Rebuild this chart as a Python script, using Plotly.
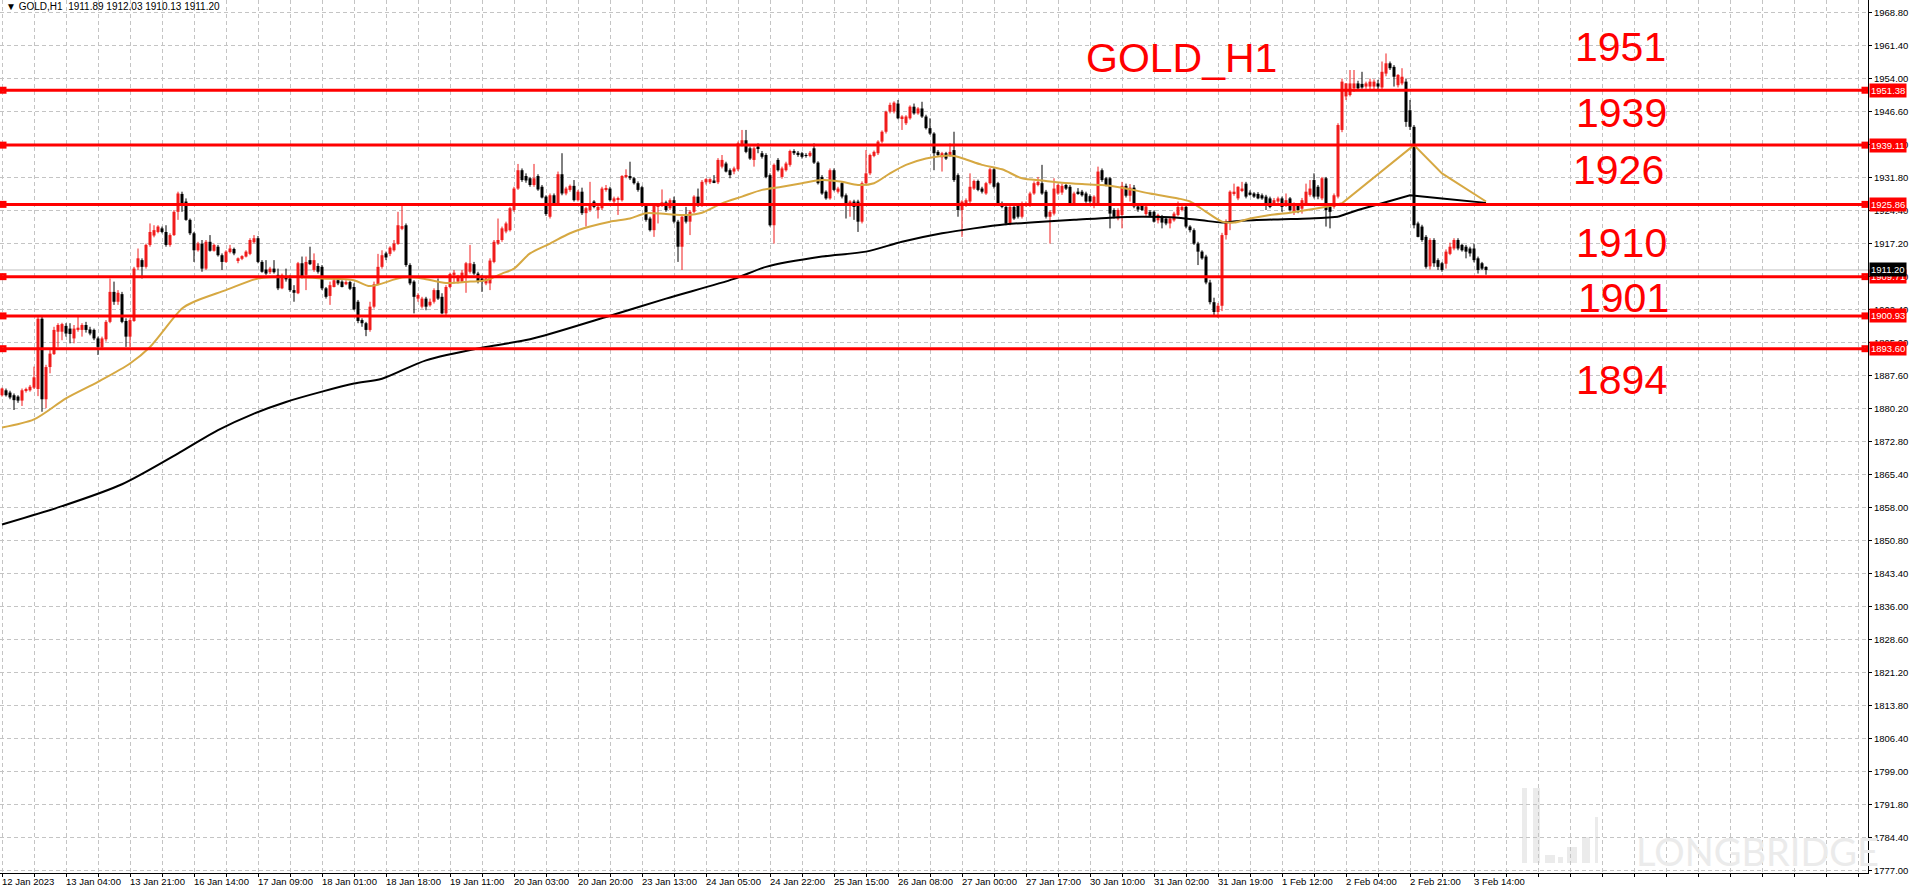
import plotly.graph_objects as go

# x-axis labels, one every 16 hourly bars
time_labels = [
    "12 Jan 2023", "13 Jan 04:00", "13 Jan 21:00", "16 Jan 14:00", "17 Jan 09:00", "18 Jan 01:00",
    "18 Jan 18:00", "19 Jan 11:00", "20 Jan 03:00", "20 Jan 20:00", "23 Jan 13:00", "24 Jan 05:00",
    "24 Jan 22:00", "25 Jan 15:00", "26 Jan 08:00", "27 Jan 00:00", "27 Jan 17:00", "30 Jan 10:00",
    "31 Jan 02:00", "31 Jan 19:00", "1 Feb 12:00", "2 Feb 04:00", "2 Feb 21:00", "3 Feb 14:00",
]

open_ = [
    1883.2, 1884.3, 1883.8, 1883.2, 1882.9, 1882.0, 1884.2, 1884.3, 1884.9, 1884.6, 1900.3, 1882.3,
    1889.5, 1892.4, 1897.4, 1897.4, 1898.7, 1898.1, 1895.9, 1897.8, 1897.8, 1898.9, 1897.9, 1897.8,
    1895.9, 1893.9, 1895.7, 1899.6, 1906.3, 1904.1, 1905.8, 1899.8, 1896.3, 1899.8, 1911.8, 1913.4,
    1911.9, 1916.8, 1918.9, 1919.7, 1920.5, 1919.7, 1916.8, 1919.0, 1924.2, 1928.2, 1926.5, 1922.4,
    1919.4, 1915.6, 1917.1, 1911.5, 1917.5, 1915.5, 1916.4, 1914.5, 1913.0, 1915.2, 1915.9, 1913.2,
    1913.7, 1914.2, 1914.8, 1917.4, 1918.3, 1913.0, 1911.3, 1910.7, 1911.5, 1910.1, 1907.1, 1909.7,
    1909.3, 1906.7, 1906.0, 1912.7, 1910.1, 1913.4, 1911.2, 1912.1, 1911.9, 1907.1, 1905.4, 1907.4,
    1908.9, 1908.6, 1908.0, 1908.5, 1907.4, 1904.1, 1900.0, 1899.3, 1897.8, 1903.0, 1908.0, 1911.9,
    1914.9, 1914.8, 1915.6, 1917.0, 1920.4, 1921.2, 1912.3, 1908.6, 1904.8, 1903.0, 1904.8, 1903.3,
    1904.1, 1906.7, 1905.2, 1901.5, 1907.4, 1910.1, 1908.6, 1908.6, 1909.7, 1910.8, 1912.5, 1910.4,
    1909.3, 1908.2, 1908.2, 1913.0, 1917.1, 1917.9, 1919.8, 1920.1, 1924.6, 1929.4, 1933.5, 1932.2,
    1931.7, 1930.2, 1932.2, 1929.8, 1927.6, 1923.1, 1927.9, 1926.1, 1932.6, 1928.3, 1929.1, 1930.0,
    1926.8, 1928.7, 1923.9, 1924.6, 1926.5, 1924.6, 1925.0, 1929.1, 1929.4, 1926.5, 1926.9, 1926.8,
    1932.0, 1932.2, 1931.7, 1930.6, 1929.7, 1925.7, 1922.7, 1920.1, 1925.3, 1925.7, 1926.3, 1925.0,
    1926.8, 1922.0, 1916.4, 1923.5, 1922.0, 1924.2, 1927.6, 1925.7, 1930.8, 1930.8, 1931.2, 1930.8,
    1934.3, 1935.0, 1933.5, 1933.2, 1933.7, 1939.1, 1940.2, 1938.4, 1935.8, 1938.8, 1937.3, 1936.9,
    1932.4, 1921.2, 1935.8, 1932.0, 1933.5, 1934.7, 1937.8, 1937.4, 1937.3, 1936.9, 1936.7, 1938.4,
    1935.2, 1932.0, 1928.7, 1927.2, 1933.5, 1928.7, 1930.6, 1927.9, 1925.7, 1926.5, 1926.5, 1922.0,
    1930.6, 1932.8, 1936.7, 1937.3, 1939.9, 1942.1, 1946.6, 1946.6, 1948.4, 1945.1, 1944.0, 1945.1,
    1947.7, 1946.2, 1947.3, 1945.5, 1942.9, 1941.7, 1937.6, 1936.4, 1937.3, 1936.9, 1938.0, 1932.4,
    1924.6, 1925.7, 1926.5, 1929.4, 1931.1, 1929.4, 1928.3, 1930.6, 1933.7, 1930.6, 1926.1, 1925.3,
    1921.6, 1925.3, 1925.7, 1923.1, 1925.7, 1925.7, 1928.3, 1930.2, 1930.6, 1928.7, 1923.1, 1923.8,
    1928.3, 1928.5, 1930.2, 1929.8, 1926.1, 1928.7, 1928.7, 1928.3, 1927.7, 1926.1, 1926.1, 1933.5,
    1931.7, 1931.7, 1924.6, 1922.7, 1923.5, 1930.0, 1927.8, 1929.6, 1925.4, 1925.5, 1923.7, 1924.2,
    1924.2, 1922.3, 1923.1, 1922.7, 1921.6, 1922.3, 1923.5, 1924.6, 1925.3, 1920.9, 1920.1, 1917.1,
    1915.3, 1914.2, 1908.4, 1904.0, 1901.8, 1903.2, 1919.0, 1922.0, 1928.3, 1927.2, 1929.0, 1930.5,
    1928.5, 1928.3, 1928.2, 1927.9, 1927.6, 1927.2, 1926.1, 1926.5, 1927.2, 1925.7, 1927.2, 1924.2,
    1925.7, 1924.9, 1926.1, 1928.0, 1931.3, 1929.8, 1927.2, 1931.7, 1925.3, 1925.3, 1927.6, 1942.5,
    1950.0, 1950.3, 1951.8, 1952.9, 1952.8, 1952.2, 1952.2, 1952.2, 1952.9, 1952.0, 1955.1, 1957.4,
    1956.6, 1952.5, 1952.9, 1953.3, 1946.9, 1943.2, 1921.6, 1920.9, 1918.6, 1912.0, 1917.9, 1913.4,
    1912.7, 1912.6, 1914.8, 1916.0, 1917.9, 1916.8, 1916.4, 1916.0, 1916.0, 1913.8, 1912.7, 1911.89,
]

high = [
    1884.9, 1884.7, 1884.2, 1883.6, 1883.2, 1884.7, 1884.9, 1885.5, 1889.6, 1901.0, 1901.0, 1890.0,
    1893.3, 1898.5, 1899.3, 1899.4, 1899.3, 1899.3, 1898.9, 1900.7, 1899.3, 1899.6, 1898.5, 1898.1,
    1896.3, 1896.3, 1900.0, 1909.3, 1908.6, 1906.7, 1906.3, 1900.4, 1900.4, 1911.9, 1916.0, 1913.8,
    1917.1, 1921.6, 1921.2, 1921.2, 1920.9, 1921.2, 1919.4, 1924.6, 1928.7, 1928.7, 1927.2, 1922.7,
    1919.7, 1917.5, 1917.9, 1917.9, 1919.0, 1917.1, 1916.8, 1914.9, 1915.6, 1916.8, 1916.2, 1914.0,
    1914.5, 1915.6, 1918.3, 1919.0, 1918.8, 1913.4, 1913.4, 1911.9, 1913.4, 1911.5, 1910.4, 1911.5,
    1910.1, 1907.8, 1913.0, 1914.2, 1914.2, 1916.4, 1914.9, 1912.7, 1912.3, 1907.4, 1908.6, 1909.3,
    1909.3, 1908.9, 1908.9, 1908.8, 1908.2, 1904.5, 1900.4, 1899.6, 1904.1, 1908.6, 1914.8, 1915.6,
    1915.3, 1916.5, 1917.9, 1924.2, 1925.7, 1921.6, 1912.7, 1908.9, 1906.0, 1905.2, 1905.2, 1904.8,
    1907.1, 1909.3, 1906.0, 1907.8, 1910.6, 1911.2, 1910.1, 1911.2, 1913.0, 1916.8, 1913.0, 1910.8,
    1910.1, 1909.7, 1913.8, 1917.9, 1922.7, 1920.9, 1922.0, 1925.3, 1929.8, 1934.9, 1933.9, 1932.8,
    1932.0, 1934.9, 1932.6, 1930.2, 1927.9, 1928.3, 1928.3, 1933.2, 1937.3, 1929.8, 1930.3, 1931.3,
    1929.1, 1929.6, 1925.3, 1930.9, 1926.8, 1925.7, 1929.8, 1930.2, 1929.8, 1927.6, 1927.6, 1932.4,
    1933.7, 1935.4, 1932.0, 1931.0, 1930.0, 1926.1, 1923.1, 1926.1, 1926.1, 1929.2, 1926.7, 1927.2,
    1927.6, 1922.4, 1923.5, 1925.3, 1924.6, 1927.9, 1929.4, 1931.3, 1931.7, 1931.7, 1932.4, 1936.2,
    1936.9, 1935.4, 1933.9, 1934.3, 1939.9, 1942.5, 1942.5, 1938.8, 1938.8, 1939.5, 1937.8, 1937.3,
    1932.8, 1935.0, 1936.2, 1934.3, 1935.4, 1938.1, 1938.2, 1937.8, 1937.6, 1937.3, 1937.8, 1939.5,
    1935.5, 1932.4, 1929.0, 1933.9, 1933.9, 1929.8, 1931.0, 1928.3, 1926.8, 1926.9, 1926.9, 1931.0,
    1938.0, 1937.2, 1937.9, 1940.2, 1942.4, 1946.8, 1948.6, 1948.9, 1949.2, 1945.8, 1945.8, 1948.0,
    1948.4, 1947.6, 1948.8, 1945.9, 1945.1, 1942.0, 1938.0, 1937.6, 1937.6, 1939.5, 1942.1, 1932.8,
    1926.8, 1927.2, 1932.8, 1931.4, 1931.4, 1929.8, 1930.9, 1934.0, 1934.0, 1930.9, 1926.5, 1925.7,
    1925.7, 1925.7, 1926.1, 1926.5, 1926.5, 1928.7, 1931.0, 1932.0, 1934.7, 1929.1, 1924.6, 1931.7,
    1930.5, 1930.5, 1930.6, 1930.2, 1928.7, 1929.5, 1929.1, 1928.7, 1928.1, 1927.9, 1934.3, 1933.9,
    1932.0, 1932.0, 1925.0, 1925.0, 1930.9, 1930.5, 1930.4, 1930.2, 1926.0, 1926.0, 1925.7, 1924.6,
    1924.5, 1923.8, 1923.5, 1923.1, 1922.9, 1924.2, 1926.5, 1925.7, 1925.7, 1921.2, 1920.5, 1917.5,
    1915.6, 1914.6, 1909.0, 1905.0, 1903.8, 1919.5, 1922.5, 1929.0, 1930.5, 1929.9, 1930.9, 1930.9,
    1929.0, 1928.6, 1928.6, 1928.3, 1928.0, 1927.6, 1927.3, 1927.6, 1927.6, 1928.3, 1927.5, 1926.3,
    1926.1, 1927.3, 1930.5, 1931.3, 1932.8, 1930.2, 1932.0, 1932.0, 1925.7, 1928.3, 1944.0, 1954.0,
    1953.0, 1955.9, 1955.9, 1953.5, 1955.5, 1953.3, 1954.0, 1953.8, 1953.7, 1957.8, 1959.6, 1957.8,
    1957.0, 1955.0, 1956.3, 1954.0, 1949.2, 1943.6, 1922.0, 1921.3, 1919.0, 1918.3, 1918.3, 1913.8,
    1913.0, 1915.8, 1917.3, 1918.3, 1918.3, 1917.1, 1916.8, 1916.4, 1917.1, 1914.2, 1913.0, 1912.03,
]

low = [
    1882.9, 1882.9, 1882.3, 1879.9, 1881.5, 1880.8, 1883.8, 1884.0, 1884.6, 1883.0, 1879.5, 1880.3,
    1888.1, 1892.2, 1894.0, 1895.5, 1896.3, 1894.8, 1894.8, 1897.4, 1896.3, 1897.2, 1896.6, 1895.5,
    1892.2, 1893.3, 1895.2, 1899.3, 1903.4, 1903.4, 1899.3, 1894.0, 1894.0, 1899.6, 1911.2, 1909.3,
    1911.5, 1916.4, 1918.5, 1919.4, 1919.4, 1916.4, 1916.4, 1918.8, 1922.4, 1924.2, 1922.2, 1919.0,
    1913.0, 1915.3, 1910.8, 1911.2, 1915.3, 1915.3, 1914.2, 1911.2, 1912.8, 1914.9, 1914.5, 1912.7,
    1913.4, 1914.0, 1914.5, 1917.1, 1912.7, 1910.6, 1910.1, 1910.3, 1910.4, 1906.7, 1906.9, 1908.6,
    1906.3, 1904.1, 1905.8, 1909.3, 1906.7, 1912.3, 1910.8, 1910.4, 1906.7, 1904.8, 1903.4, 1907.3,
    1907.8, 1907.3, 1907.8, 1906.7, 1902.2, 1899.3, 1898.5, 1896.4, 1897.4, 1902.6, 1907.8, 1911.5,
    1913.4, 1914.3, 1915.3, 1916.8, 1920.1, 1911.9, 1907.8, 1901.5, 1904.1, 1902.6, 1902.2, 1903.0,
    1903.7, 1904.5, 1901.3, 1901.1, 1907.1, 1908.2, 1908.2, 1908.3, 1906.1, 1910.4, 1910.1, 1908.2,
    1906.3, 1907.8, 1906.7, 1912.7, 1916.8, 1917.5, 1919.4, 1919.8, 1924.2, 1929.1, 1930.9, 1930.7,
    1929.8, 1929.8, 1928.9, 1927.2, 1923.3, 1922.7, 1925.7, 1925.7, 1927.9, 1927.9, 1928.7, 1926.5,
    1926.5, 1923.5, 1920.9, 1924.2, 1925.0, 1922.7, 1924.6, 1928.7, 1926.5, 1926.1, 1923.5, 1926.5,
    1931.7, 1931.3, 1930.3, 1928.7, 1925.3, 1922.0, 1919.8, 1918.6, 1921.6, 1925.3, 1924.2, 1924.6,
    1921.6, 1913.0, 1911.2, 1921.6, 1919.0, 1923.9, 1925.3, 1925.3, 1930.3, 1930.4, 1930.6, 1930.4,
    1933.9, 1933.0, 1931.7, 1932.6, 1933.3, 1938.8, 1937.3, 1935.8, 1934.3, 1937.3, 1936.1, 1931.7,
    1920.9, 1917.1, 1933.2, 1931.6, 1933.2, 1934.3, 1936.9, 1936.5, 1936.1, 1936.3, 1936.4, 1934.9,
    1930.3, 1928.0, 1926.9, 1926.9, 1928.8, 1928.3, 1927.2, 1922.7, 1923.1, 1922.4, 1919.7, 1921.6,
    1930.3, 1932.4, 1936.4, 1936.9, 1939.5, 1941.7, 1946.2, 1946.2, 1944.9, 1942.5, 1943.6, 1944.8,
    1945.9, 1945.9, 1945.2, 1942.6, 1941.4, 1933.5, 1936.5, 1933.2, 1935.8, 1936.5, 1930.9, 1923.1,
    1918.6, 1925.3, 1926.1, 1929.1, 1928.8, 1928.3, 1928.0, 1930.3, 1929.4, 1925.7, 1925.0, 1921.2,
    1921.2, 1922.4, 1922.7, 1922.7, 1925.3, 1925.3, 1928.0, 1929.9, 1928.0, 1922.7, 1917.1, 1923.4,
    1928.0, 1928.0, 1929.1, 1925.7, 1925.7, 1928.0, 1927.6, 1926.2, 1926.1, 1925.0, 1925.7, 1930.9,
    1929.9, 1920.5, 1922.7, 1922.3, 1920.5, 1927.4, 1926.5, 1925.0, 1924.2, 1924.4, 1923.3, 1923.1,
    1921.8, 1921.6, 1920.5, 1921.2, 1920.5, 1922.0, 1923.2, 1924.3, 1920.5, 1919.6, 1916.8, 1912.3,
    1913.5, 1908.0, 1903.5, 1900.8, 1900.5, 1902.0, 1918.0, 1920.1, 1927.8, 1926.8, 1928.6, 1927.2,
    1927.8, 1927.3, 1927.0, 1926.9, 1924.6, 1925.0, 1925.6, 1926.2, 1924.2, 1925.3, 1924.3, 1923.5,
    1923.9, 1923.8, 1925.8, 1927.6, 1927.2, 1927.0, 1926.8, 1920.9, 1920.5, 1924.9, 1927.2, 1942.0,
    1949.2, 1950.0, 1951.0, 1951.4, 1951.7, 1951.7, 1951.4, 1951.6, 1951.6, 1951.5, 1954.5, 1955.9,
    1952.2, 1952.0, 1952.5, 1943.2, 1942.5, 1920.5, 1918.5, 1917.5, 1911.5, 1911.3, 1911.9, 1911.2,
    1910.8, 1911.5, 1914.5, 1915.6, 1915.6, 1915.3, 1913.8, 1914.2, 1912.9, 1910.4, 1911.2, 1910.13,
]

close = [
    1884.7, 1883.2, 1882.7, 1882.1, 1882.0, 1884.3, 1884.6, 1885.1, 1887.2, 1900.3, 1882.3, 1889.5,
    1892.5, 1897.8, 1898.9, 1899.1, 1897.0, 1896.9, 1898.1, 1898.3, 1898.9, 1897.8, 1897.0, 1895.9,
    1894.0, 1895.9, 1899.6, 1906.3, 1904.1, 1906.1, 1899.6, 1896.3, 1900.0, 1911.5, 1913.8, 1911.9,
    1916.8, 1919.7, 1920.1, 1920.9, 1919.7, 1916.8, 1919.0, 1924.2, 1928.3, 1926.1, 1922.4, 1919.4,
    1915.6, 1917.1, 1911.5, 1917.5, 1915.5, 1916.8, 1914.5, 1913.0, 1915.3, 1916.0, 1914.9, 1913.8,
    1914.3, 1915.3, 1917.9, 1918.3, 1913.0, 1910.8, 1910.4, 1911.5, 1910.7, 1907.1, 1910.1, 1909.1,
    1906.7, 1906.1, 1912.7, 1909.7, 1913.0, 1912.5, 1913.4, 1910.8, 1907.1, 1905.2, 1907.8, 1908.9,
    1908.2, 1907.4, 1908.5, 1907.0, 1902.4, 1899.8, 1899.3, 1897.8, 1903.0, 1908.0, 1911.9, 1914.5,
    1914.0, 1916.2, 1917.1, 1921.2, 1921.0, 1912.3, 1908.2, 1905.2, 1905.6, 1904.8, 1903.0, 1904.1,
    1906.7, 1904.8, 1901.5, 1907.4, 1910.3, 1910.6, 1909.7, 1910.6, 1912.7, 1912.7, 1910.4, 1908.6,
    1908.6, 1909.3, 1913.3, 1917.5, 1917.9, 1920.5, 1921.6, 1925.0, 1929.4, 1933.5, 1931.3, 1931.2,
    1930.2, 1931.7, 1929.2, 1927.4, 1923.7, 1927.9, 1926.1, 1932.6, 1928.3, 1929.4, 1930.0, 1926.8,
    1928.7, 1923.9, 1925.0, 1925.7, 1925.3, 1925.3, 1929.4, 1929.4, 1926.8, 1927.2, 1927.2, 1932.2,
    1932.4, 1931.7, 1930.6, 1929.1, 1925.7, 1922.4, 1920.1, 1925.7, 1925.7, 1926.3, 1924.6, 1926.8,
    1922.0, 1916.4, 1923.1, 1922.0, 1924.2, 1927.6, 1925.7, 1930.9, 1931.5, 1931.5, 1930.8, 1935.8,
    1935.8, 1933.2, 1932.4, 1933.9, 1939.5, 1940.2, 1937.6, 1936.1, 1938.4, 1938.4, 1936.5, 1932.0,
    1921.2, 1934.7, 1933.5, 1933.9, 1935.0, 1937.8, 1937.3, 1936.9, 1936.5, 1936.7, 1937.4, 1935.2,
    1930.6, 1928.3, 1927.2, 1933.5, 1929.1, 1929.4, 1927.6, 1925.7, 1926.5, 1925.3, 1922.0, 1930.6,
    1932.8, 1936.9, 1937.6, 1939.9, 1942.1, 1946.6, 1948.1, 1948.6, 1945.1, 1945.5, 1945.5, 1947.7,
    1946.2, 1947.3, 1945.5, 1942.9, 1941.7, 1937.3, 1936.9, 1937.3, 1936.1, 1937.6, 1931.3, 1924.6,
    1926.5, 1926.8, 1929.8, 1931.1, 1929.1, 1928.7, 1930.6, 1933.7, 1929.8, 1926.1, 1925.3, 1921.6,
    1925.3, 1922.7, 1923.1, 1926.1, 1926.1, 1928.3, 1930.6, 1930.9, 1928.3, 1923.1, 1924.2, 1929.4,
    1930.2, 1930.0, 1929.4, 1926.1, 1928.3, 1928.3, 1927.9, 1926.5, 1926.5, 1927.6, 1933.2, 1931.3,
    1930.2, 1923.8, 1923.1, 1924.6, 1930.0, 1927.8, 1929.6, 1925.4, 1924.7, 1924.6, 1925.4, 1923.3,
    1922.0, 1923.5, 1921.8, 1921.6, 1922.7, 1923.8, 1925.3, 1925.3, 1920.9, 1920.1, 1917.1, 1915.3,
    1913.8, 1908.4, 1904.0, 1901.8, 1903.2, 1919.0, 1922.0, 1928.7, 1928.7, 1929.8, 1929.4, 1927.6,
    1928.0, 1927.6, 1927.2, 1927.2, 1926.1, 1925.3, 1926.8, 1927.2, 1925.3, 1926.8, 1924.6, 1926.1,
    1924.6, 1926.8, 1928.7, 1929.4, 1927.6, 1927.6, 1931.7, 1924.6, 1924.2, 1927.9, 1943.6, 1953.3,
    1952.9, 1952.9, 1952.9, 1951.8, 1952.0, 1952.9, 1953.3, 1953.3, 1952.2, 1955.5, 1957.4, 1956.3,
    1954.4, 1954.8, 1954.4, 1944.3, 1943.2, 1921.2, 1918.6, 1917.9, 1911.9, 1917.9, 1912.7, 1911.9,
    1911.2, 1915.3, 1916.4, 1917.9, 1916.0, 1915.6, 1915.3, 1914.9, 1913.4, 1911.2, 1911.5, 1911.20,
]

# moving averages at these bar numbers
fast_ma_bar = [
    0, 8, 16, 24, 32, 37, 45, 48, 56, 64, 72, 80, 88, 92, 100, 105, 111, 117, 121, 125, 128, 132, 137,
    142, 147, 152, 157, 161, 166, 171, 175, 180, 185, 190, 195, 200, 205, 210, 214, 218, 222, 226, 231,
    235, 238, 241, 245, 250, 255, 260, 265, 270, 275, 280, 287, 294, 297, 301, 305, 308, 312, 317, 322,
    327, 332, 335, 353, 360, 371,
]
fast_ma = [
    1876.0, 1877.8, 1882.5, 1886.2, 1890.3, 1894.0, 1902.6, 1904.1, 1906.7, 1909.3, 1909.7, 1909.3,
    1908.9, 1907.6, 1909.5, 1909.3, 1908.3, 1908.6, 1908.9, 1910.4, 1911.5, 1914.9, 1917.1, 1919.4,
    1920.9, 1922.0, 1922.7, 1923.9, 1923.7, 1923.5, 1924.0, 1926.1, 1927.6, 1929.1, 1929.8, 1930.6,
    1931.3, 1930.9, 1930.2, 1930.6, 1932.8, 1934.7, 1936.1, 1936.7, 1936.7, 1935.9, 1934.7, 1933.7,
    1931.7, 1931.2, 1930.7, 1930.4, 1930.2, 1929.6, 1928.3, 1927.2, 1926.5, 1924.2, 1922.0, 1921.8,
    1922.7, 1923.5, 1924.0, 1924.7, 1925.5, 1926.1, 1939.1, 1932.8, 1926.5,
]
slow_ma_bar = [
    0, 15, 30, 45, 54, 63, 71, 80, 88, 95, 106, 121, 132, 151, 166, 183, 191, 205, 216, 225, 235, 243,
    251, 260, 268, 277, 285, 294, 300, 305, 310, 319, 327, 334, 339, 345, 352, 360, 371,
]
slow_ma = [
    1854.3, 1858.4, 1863.3, 1870.7, 1875.4, 1879.1, 1881.7, 1884.0, 1885.8, 1886.9, 1891.0, 1894.0,
    1895.7, 1900.7, 1904.8, 1909.2, 1911.9, 1914.2, 1915.3, 1917.5, 1919.4, 1920.5, 1921.4, 1922.0,
    1922.4, 1922.9, 1923.1, 1922.9, 1922.3, 1921.8, 1922.2, 1922.5, 1922.7, 1923.1, 1924.6, 1926.1,
    1927.9, 1927.2, 1926.2,
]
# from this bar on, both averages are drawn as straight segments
ma_kink_bar = 334

levels = [1951.38, 1939.11, 1925.86, 1909.71, 1900.93, 1893.60]
level_tags = ["1951", "1939", "1926", "1910", "1901", "1894"]
last_price = 1911.20
price_ticks = [
    1777.00, 1784.40, 1791.80, 1799.00, 1806.40, 1813.80, 1821.20, 1828.60, 1836.00, 1843.40,
    1850.80, 1858.00, 1865.40, 1872.80, 1880.20, 1887.60, 1895.00, 1902.40, 1909.80, 1917.20,
    1924.40, 1931.80, 1939.20, 1946.60, 1954.00, 1961.40, 1968.80,
]

W, H = 1911, 888
PLOT_W, PLOT_H = 1868, 873
SLOTS = 467  # 4 px per bar, chart shifted left with empty space on the right

BULL = "#f01c1c"
LEVEL_RED = "#ff0000"
MA_GOLD = "#d6a842"
GRID = "#c4c4c4"
SANS = "Liberation Sans, Arial, sans-serif"
SMALL = 9.5


def paper(px_x, px_y):
    return px_x / PLOT_W, 1 - px_y / PLOT_H


bars = list(range(len(close)))
up = [i for i in bars if close[i] >= open_[i]]
down = [i for i in bars if close[i] < open_[i]]


def body_trace(idx, color):
    return go.Bar(
        x=idx,
        base=[min(open_[i], close[i]) for i in idx],
        y=[max(abs(close[i] - open_[i]), 0.15) for i in idx],
        width=0.75,
        marker={"color": color, "line": {"width": 0}},
        hoverinfo="skip",
    )


def wick_trace(idx, color):
    xs, ys = [], []
    for i in idx:
        xs += [i, i, None]
        ys += [low[i], high[i], None]
    return go.Scatter(x=xs, y=ys, mode="lines", line={"color": color, "width": 1}, hoverinfo="skip")


def ma_traces(xs, ys, color):
    smooth = [(x, y) for x, y in zip(xs, ys) if x <= ma_kink_bar]
    straight = [(x, y) for x, y in zip(xs, ys) if x >= smooth[-1][0]]
    out = []
    for pts, shape in ((smooth, "spline"), (straight, "linear")):
        out.append(go.Scatter(
            x=[p[0] for p in pts], y=[p[1] for p in pts], mode="lines",
            line={"color": color, "width": 2, "shape": shape, "smoothing": 0.8}, hoverinfo="skip",
        ))
    return out


fig = go.Figure()
fig.add_trace(wick_trace(up, BULL))
fig.add_trace(wick_trace(down, "#000000"))
fig.add_trace(body_trace(up, BULL))
fig.add_trace(body_trace(down, "#000000"))
for tr in ma_traces(slow_ma_bar, slow_ma, "#000000") + ma_traces(fast_ma_bar, fast_ma, MA_GOLD):
    fig.add_trace(tr)

# bid line
fig.add_shape(type="line", xref="paper", x0=0, x1=1, y0=last_price, y1=last_price,
              line={"color": "#c0c0c0", "width": 1}, layer="below")

# horizontal levels with end handles
for lv in levels:
    fig.add_shape(type="line", xref="paper", x0=0, x1=1, y0=lv, y1=lv,
                  line={"color": LEVEL_RED, "width": 3}, layer="above")
handle_x = [0.25, SLOTS - 1.25]
for size, color in ((7, LEVEL_RED), (2, "white")):
    fig.add_trace(go.Scatter(
        x=handle_x * len(levels),
        y=[lv for lv in levels for _ in handle_x],
        mode="markers",
        marker={"symbol": "square", "size": size, "color": color, "line": {"width": 0}},
        cliponaxis=False,
        hoverinfo="skip",
    ))

# price scale labels on the right
for v in price_ticks:
    fig.add_annotation(xref="paper", x=1, xanchor="left", xshift=4, y=v, yref="y",
                       text=f"{v:.2f}", showarrow=False,
                       font={"color": "#000000", "size": SMALL, "family": SANS})

# right-hand price boxes
for lv, bg in [(lv, LEVEL_RED) for lv in levels] + [(last_price, "#000000")]:
    fig.add_annotation(xref="paper", x=1, xanchor="left", xshift=1, y=lv, yref="y",
                       text=f"{lv:.2f}", showarrow=False, bgcolor=bg, borderpad=1,
                       font={"color": "white", "size": SMALL, "family": SANS})

# time labels under the axis, left-aligned on their tick
for k, lab in enumerate(time_labels):
    fig.add_annotation(xref="x", x=16 * k, xanchor="left", xshift=-2, yref="paper", y=0,
                       yanchor="top", yshift=-1, text=lab, showarrow=False,
                       font={"color": "#000000", "size": SMALL, "family": SANS})

# big red notes
note_px = [(1620, 47), (1621, 113), (1618, 170), (1621, 243), (1623, 298), (1621, 380)]
for tag, (nx, ny) in zip(level_tags, note_px):
    px_, py_ = paper(nx, ny)
    fig.add_annotation(xref="paper", yref="paper", x=px_, y=py_, text=tag, showarrow=False,
                       xanchor="center", yanchor="middle",
                       font={"color": LEVEL_RED, "size": 41, "family": SANS})
gx, gy = paper(1181, 58)
fig.add_annotation(xref="paper", yref="paper", x=gx, y=gy, text="GOLD_H1", showarrow=False,
                   xanchor="center", yanchor="middle",
                   font={"color": LEVEL_RED, "size": 41, "family": SANS})

# header
hx, hy = paper(4, 7)
fig.add_annotation(xref="paper", yref="paper", x=hx, y=hy, xanchor="left", yanchor="middle",
                   text="▼ GOLD,H1\u00a0\u00a01911.89 1912.03 1910.13 1911.20", showarrow=False,
                   font={"color": "#000000", "size": 10, "family": SANS})

# watermark
wx, wy = paper(1757, 851)
fig.add_annotation(xref="paper", yref="paper", x=wx, y=wy, text="LONGBRIDGE", showarrow=False,
                   xanchor="center", yanchor="middle",
                   font={"color": "#ebebeb", "size": 38, "family": "Lato, sans-serif"})
for x0, x1, y0 in [(1522, 1527, 788), (1533, 1540, 788), (1545, 1555, 855), (1558, 1563, 857),
                   (1567, 1577, 847), (1582, 1590, 837), (1595, 1598, 817)]:
    a0, b0 = paper(x0, 863)
    a1, b1 = paper(x1, y0)
    fig.add_shape(type="rect", xref="paper", yref="paper", x0=a0, x1=a1, y0=b0, y1=b1,
                  fillcolor="#ebebeb", line={"width": 0}, layer="below")

fig.update_layout(
    width=W,
    height=H,
    margin={"l": 0, "r": W - PLOT_W, "t": 0, "b": H - PLOT_H},
    paper_bgcolor="white",
    plot_bgcolor="white",
    showlegend=False,
    barmode="overlay",
    hovermode=False,
    font={"family": SANS, "size": 10, "color": "#000000"},
    xaxis={
        "range": [-0.5, SLOTS - 0.5],
        "tickvals": list(range(0, SLOTS, 8)),
        "showticklabels": False,
        "ticks": "outside",
        "ticklen": 3,
        "tickcolor": "#000000",
        "showgrid": True,
        "gridcolor": GRID,
        "griddash": "4px,3px",
        "zeroline": False,
        "showline": True,
        "linecolor": "#000000",
        "automargin": False,
    },
    yaxis={
        "side": "right",
        "range": [1776.4, 1971.55],
        "tickvals": price_ticks,
        "showticklabels": False,
        "ticks": "outside",
        "ticklen": 3,
        "tickcolor": "#000000",
        "showgrid": True,
        "gridcolor": GRID,
        "griddash": "4px,3px",
        "zeroline": False,
        "showline": True,
        "linecolor": "#000000",
        "automargin": False,
    },
)

# the page body has a default margin; drop it so the chart fills the window exactly
fig.write_html(
    "out.html",
    config={"displayModeBar": False},
    post_script="document.body.style.margin='0';document.body.style.overflow='hidden';",
)
